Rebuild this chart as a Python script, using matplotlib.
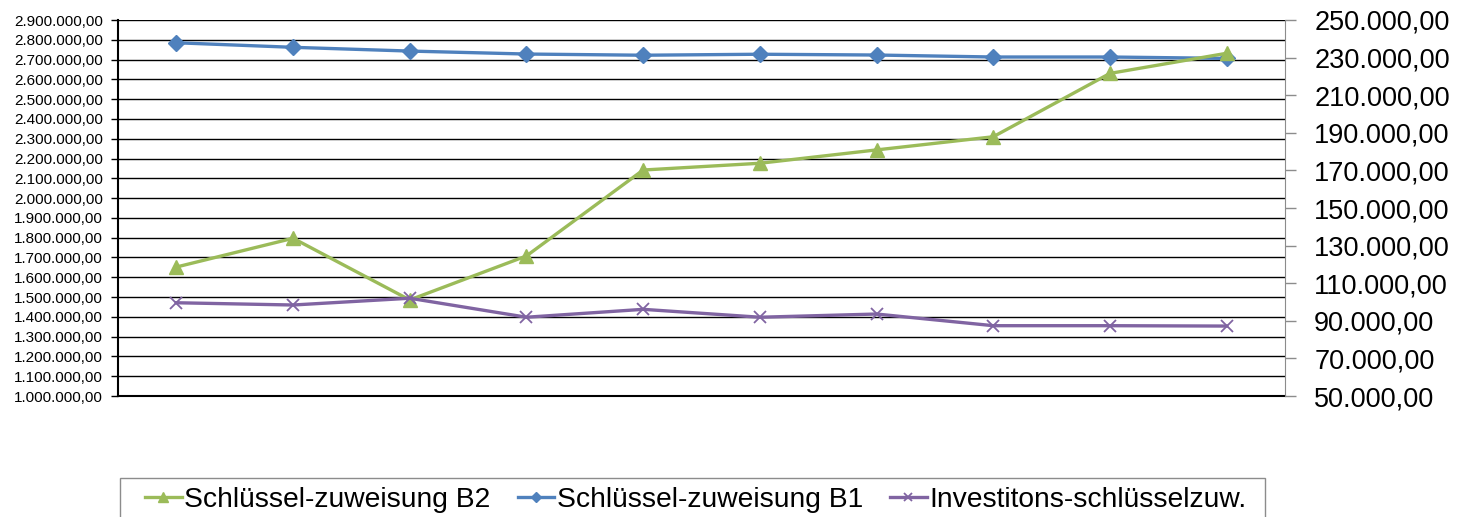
import numpy as np
import matplotlib.pyplot as plt
from matplotlib.patches import Rectangle
from matplotlib.ticker import FuncFormatter

plt.rcParams['font.family'] = ['Liberation Sans', 'DejaVu Sans']

# values (10 periods, no category labels shown)
periods = list(range(10))
b1_values = [2785000, 2762000, 2743000, 2728000, 2722000, 2727000, 2723000, 2713000, 2713000, 2706000]
b2_values = [118600, 133900, 101100, 124500, 170200, 173800, 180900, 187900, 221600, 232300]
invest_values = [99600, 98400, 102000, 91900, 96100, 91900, 93600, 87400, 87400, 87200]

left_ticks = np.arange(1000000, 2900001, 100000)
right_ticks = np.arange(50000, 250001, 20000)

def de_fmt(v, pos=None):
    s = f"{v:,.2f}"
    return s.replace(",", "X").replace(".", ",").replace("X", ".")

W, H = 1471, 517
fig = plt.figure(figsize=(W / 100, H / 100), dpi=100)
ax = fig.add_axes([118 / W, 1 - 396 / H, (1285 - 118) / W, (396 - 20) / H])
ax2 = ax.twinx()

c_b1 = '#4F81BD'
c_b2 = '#9BBB59'
c_inv = '#8064A2'

l1, = ax.plot(periods, b1_values, color=c_b1, lw=2.4, marker='D', ms=8, zorder=3)
l2, = ax2.plot(periods, b2_values, color=c_b2, lw=2.4, marker='^', ms=10, zorder=3)
l3, = ax2.plot(periods, invest_values, color=c_inv, lw=2.4, marker='x', ms=9, mew=1.3, zorder=3)

ax.set_xlim(-0.5, 9.5)
ax.set_ylim(1000000, 2900000)
ax.set_yticks(left_ticks)
ax.yaxis.set_major_formatter(FuncFormatter(de_fmt))
ax.tick_params(axis='y', labelsize=11, length=5, width=1, pad=6, colors='black')
ax.set_xticks([])
ax.grid(axis='y', color='black', lw=1)
ax.set_axisbelow(True)
for s in ['top', 'right']:
    ax.spines[s].set_visible(False)
ax.spines['left'].set_linewidth(1.5)
ax.spines['bottom'].set_linewidth(1.5)

ax2.set_ylim(50000, 250000)
ax2.set_yticks(right_ticks)
ax2.yaxis.set_major_formatter(FuncFormatter(de_fmt))
ax2.tick_params(axis='y', labelsize=19.5, length=8, width=1, color='#8c8c8c', pad=13)
for s in ['top', 'left', 'bottom']:
    ax2.spines[s].set_visible(False)
ax2.spines['right'].set_color('#8c8c8c')

# legend box (runs off the bottom edge like in the original)
fig.patches.append(Rectangle((120 / W, -0.05), (1265 - 120) / W, 0.05 + 1 - 478 / H,
                             transform=fig.transFigure, fill=False, edgecolor='#8c8c8c', lw=1))
leg = fig.legend([l2, l1, l3],
                 ['Schlüssel-zuweisung B2', 'Schlüssel-zuweisung B1', 'Investitons-schlüsselzuw.'],
                 loc='upper left', bbox_to_anchor=(145 / W, 1 - 487 / H), borderaxespad=0,
                 ncol=3, fontsize=20.3, frameon=False, markerscale=0.7,
                 handlelength=1.3, columnspacing=0.95, handletextpad=0.1, borderpad=0)

fig.savefig('out.png', dpi=100)
